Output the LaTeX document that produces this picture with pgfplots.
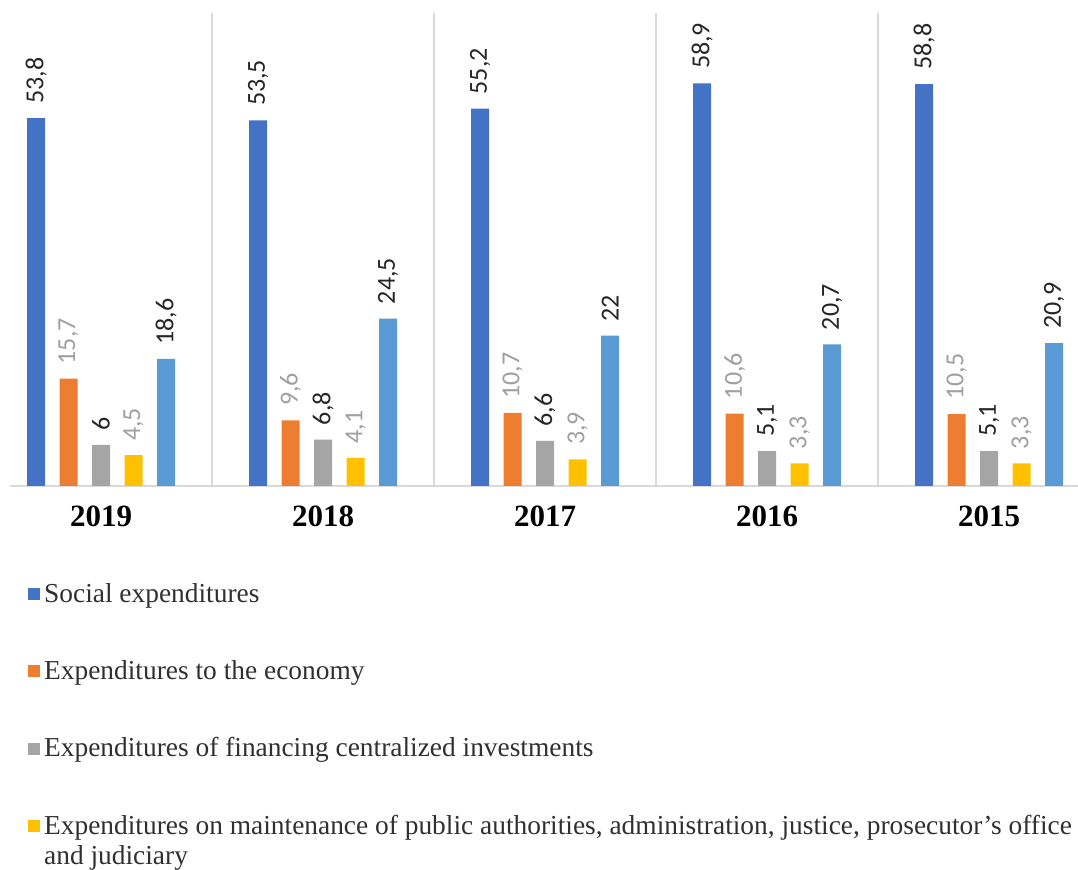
\documentclass[border=0pt]{standalone}
\usepackage{pgfplots}
\pgfplotsset{compat=1.18}
\usepackage{fontspec}
\setmainfont{Liberation Serif}
\newfontfamily\carlito{Carlito}
\definecolor{c1}{HTML}{4472C4}
\definecolor{c2}{HTML}{ED7D31}
\definecolor{c3}{HTML}{A5A5A5}
\definecolor{c4}{HTML}{FFC000}
\definecolor{c5}{HTML}{5B9BD5}
\definecolor{gridc}{HTML}{D9D9D9}
\definecolor{lbldark}{HTML}{262626}
\definecolor{lblgray}{HTML}{A0A0A0}
\definecolor{legtext}{HTML}{303030}
\begin{document}
\begin{tikzpicture}
\begin{axis}[
  at={(5pt,192pt)}, anchor=south west, scale only axis,
  width=534pt, height=236.5pt,
  xmin=-0.41, xmax=4.4, ymin=0, ymax=69.2,
  ybar=7.25pt, bar width=9pt,
  axis y line=none, axis x line*=bottom,
  x axis line style={-, draw=gridc, line width=0.75pt},
  xtick={0,1,2,3,4}, xticklabels={2019,2018,2017,2016,2015},
  major tick length=0pt,
  minor xtick={0.5,1.5,2.5,3.5}, minor tick length=0pt,
  xminorgrids, minor grid style={gridc, line width=0.75pt},
  xticklabel style={font=\fontsize{15.5}{18}\selectfont\bfseries, text=black, yshift=-6.2pt},
  nodes near coords,
  nodes near coords style={rotate=90, anchor=west, inner sep=7pt,
    font=\carlito\fontsize{13}{15}\selectfont,
    /pgf/number format/fixed, /pgf/number format/precision=1,
    /pgf/number format/use comma, /pgf/number format/assume math mode=true},
  legend style={at={(axis description cs:0.011,-0.1875)}, anchor=north west,
    draw=none, fill=none, font=\fontsize{13.7}{16}\selectfont, text=legtext,
    row sep=23.6pt, column sep=0pt, nodes={inner sep=2pt}},
  legend cell align=left,
  legend image code/.code={\fill[#1] (-1.5pt,-3pt) rectangle (4.5pt,3pt);},
]
\addplot[draw=none, fill=c1, every node near coord/.append style={text=lbldark}]
  coordinates {(0,53.8) (1,53.5) (2,55.2) (3,58.9) (4,58.8)};
\addplot[draw=none, fill=c2, every node near coord/.append style={text=lblgray}]
  coordinates {(0,15.7) (1,9.6) (2,10.7) (3,10.6) (4,10.5)};
\addplot[draw=none, fill=c3, every node near coord/.append style={text=lbldark}]
  coordinates {(0,6) (1,6.8) (2,6.6) (3,5.1) (4,5.1)};
\addplot[draw=none, fill=c4, every node near coord/.append style={text=lblgray}]
  coordinates {(0,4.5) (1,4.1) (2,3.9) (3,3.3) (4,3.3)};
\addplot[draw=none, fill=c5, every node near coord/.append style={text=lbldark}]
  coordinates {(0,18.6) (1,24.5) (2,22) (3,20.7) (4,20.9)};
\legend{Social expenditures, Expenditures to the economy, Expenditures of financing centralized investments, {\makebox[0pt][l]{\raisebox{-15pt}[0pt][0pt]{and judiciary}}Expenditures on maintenance of public authorities, administration, justice, prosecutor's office}}
\end{axis}
\pgfresetboundingbox
\useasboundingbox (0,0) rectangle (539pt,435pt);
\end{tikzpicture}
\end{document}
